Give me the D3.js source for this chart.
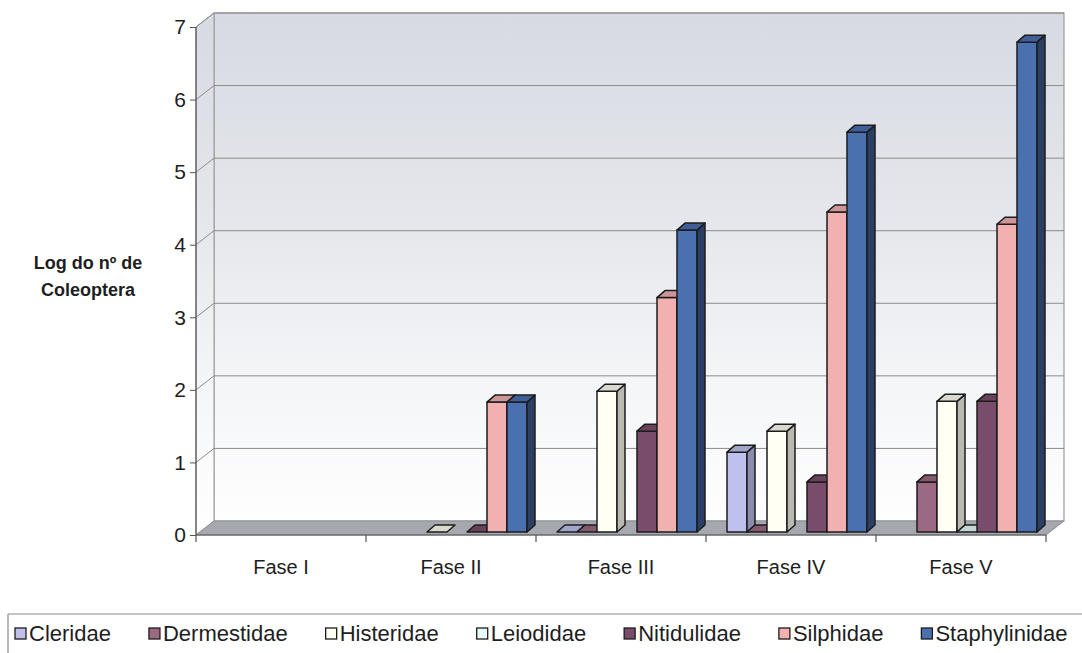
<!DOCTYPE html>
<html>
<head>
<meta charset="utf-8">
<script src="https://cdn.jsdelivr.net/npm/d3@7/dist/d3.min.js"></script>
<style>
  html, body { margin: 0; padding: 0; background: #ffffff; }
  svg { display: block; font-family: "Liberation Sans", Arial, sans-serif; }
</style>
</head>
<body>
<svg id="chart" width="1082" height="653"></svg>
<script>
// Phases (x categories)
const categories = ["Fase I", "Fase II", "Fase III", "Fase IV", "Fase V"];

// Families (series), natural log of beetle counts per phase; null = not recorded
const seriesNames = ["Cleridae", "Dermestidae", "Histeridae", "Leiodidae", "Nitidulidae", "Silphidae", "Staphylinidae"];
const cleridae      = [null, null, 0,    1.10, null];
const dermestidae   = [null, null, 0,    0,    0.69];
const histeridae    = [null, 0,    1.94, 1.39, 1.80];
const leiodidae     = [null, null, null, null, 0];
const nitidulidae   = [null, 0,    1.39, 0.69, 1.80];
const silphidae     = [null, 1.79, 3.23, 4.41, 4.24];
const staphylinidae = [null, 1.79, 4.16, 5.51, 6.75];

const yTicks = [0, 1, 2, 3, 4, 5, 6, 7];
const yTitle = ["Log do nº de", "Coleoptera"];

const seriesValues = [cleridae, dermestidae, histeridae, leiodidae, nitidulidae, silphidae, staphylinidae];
const palette = ["#bfc0ec", "#9b6a82", "#fffff4", "#e6fafa", "#7a4c6b", "#f3b0b1", "#4a70b0"];

const svg = d3.select("#chart");
const FONT = "Liberation Sans, Arial, sans-serif";

// Frame of the 3D plot: front axis plane plus a depth offset to the back wall
const left = 196, right = 1046;
const depth = { x: 18, y: -14 };       // front -> back wall
const barShift = { x: 6, y: -3 };      // front plane of the columns
const barDepth = { x: 8, y: -7 };      // column thickness

const y = d3.scaleLinear().domain([0, 7]).range([535, 27]);
const x = d3.scaleBand().domain(categories).range([left, right]).paddingInner(0).paddingOuter(0);
const clusterPad = 15;
const xs = d3.scaleBand().domain(seriesNames)
  .range([clusterPad, x.bandwidth() - clusterPad]).padding(0);

const defs = svg.append("defs");
const wallGrad = defs.append("linearGradient")
  .attr("id", "wallGrad").attr("gradientUnits", "userSpaceOnUse")
  .attr("x1", 0).attr("y1", y(7) + depth.y).attr("x2", 0).attr("y2", y(0));
wallGrad.append("stop").attr("offset", "0%").attr("stop-color", "#d7dae2");
wallGrad.append("stop").attr("offset", "40%").attr("stop-color", "#e5e7ec");
wallGrad.append("stop").attr("offset", "72%").attr("stop-color", "#f5f6f8");
wallGrad.append("stop").attr("offset", "100%").attr("stop-color", "#ffffff");

const pts = a => a.map(p => p.join(",")).join(" ");

// Back wall
const bx0 = left + depth.x, bx1 = right + depth.x;
const byTop = y(7) + depth.y, byBot = y(0) + depth.y;
svg.append("rect")
  .attr("x", bx0).attr("y", byTop).attr("width", bx1 - bx0).attr("height", byBot - byTop)
  .attr("fill", "url(#wallGrad)").attr("stroke", "#9a9a9a").attr("stroke-width", 1.2);

// Side wall
svg.append("polygon")
  .attr("points", pts([[left, y(7)], [bx0, byTop], [bx0, byBot], [left, y(0)]]))
  .attr("fill", "url(#wallGrad)").attr("stroke", "#9a9a9a").attr("stroke-width", 1);

// Gridlines on back and side walls
const grid = svg.append("g").attr("stroke", "#8c8c8c").attr("stroke-width", 1).attr("fill", "none");
yTicks.filter(t => t > 0).forEach(t => {
  grid.append("polyline")
    .attr("points", pts([[left, y(t)], [bx0, y(t) + depth.y], [bx1, y(t) + depth.y]]));
});

// Floor
svg.append("polygon")
  .attr("points", pts([[left, y(0)], [right, y(0)], [bx1, byBot], [bx0, byBot]]))
  .attr("fill", "#a6a8b0").attr("stroke", "#8e9098").attr("stroke-width", 1);

// Columns
const barsG = svg.append("g").attr("stroke", "#1c1c1c").attr("stroke-width", 1.5).attr("stroke-linejoin", "round");
categories.forEach((cat, i) => {
  seriesNames.forEach((name, j) => {
    const v = seriesValues[j][i];
    if (v === null) return;
    const base = d3.color(palette[j]);
    const x0 = x(cat) + xs(name) + barShift.x;
    const x1 = x0 + xs.bandwidth();
    const yt = y(v) + barShift.y;
    const yb = y(0) + barShift.y;
    const g = barsG.append("g").attr("class", "bar");
    if (v > 0) {
      g.append("rect").attr("x", x0).attr("y", yt).attr("width", x1 - x0).attr("height", yb - yt)
        .attr("fill", base.formatHex());
      g.append("polygon")
        .attr("points", pts([[x1, yt], [x1, yb], [x1 + barDepth.x, yb + barDepth.y], [x1 + barDepth.x, yt + barDepth.y]]))
        .attr("fill", base.darker(j === 6 ? 1.6 : 0.9).formatHex());
    }
    g.append("polygon")
      .attr("points", pts([[x0, yt], [x1, yt], [x1 + barDepth.x, yt + barDepth.y], [x0 + barDepth.x, yt + barDepth.y]]))
      .attr("fill", base.darker(0.45).formatHex());
  });
});

// Front axes
const axisG = svg.append("g").attr("stroke", "#555").attr("stroke-width", 1.2);
axisG.append("line").attr("x1", left).attr("x2", left).attr("y1", y(7)).attr("y2", y(0));
axisG.append("line").attr("x1", left).attr("x2", right).attr("y1", y(0)).attr("y2", y(0));

const yAxis = d3.axisLeft(y).tickValues(yTicks).tickFormat(d3.format("d")).tickSize(6).tickPadding(4);
const yAxisG = svg.append("g").attr("transform", `translate(${left},0)`).call(yAxis);
yAxisG.attr("font-size", null).attr("font-family", null);
yAxisG.select(".domain").remove();
yAxisG.selectAll(".tick line").attr("stroke", "#555");
yAxisG.selectAll(".tick text").style("font-size", "21px").attr("fill", "#1e1e1e")
  .style("font-family", FONT);

const xAxis = d3.axisBottom(x).tickSize(0).tickPadding(25);
const xAxisG = svg.append("g").attr("transform", `translate(0,${y(0)})`).call(xAxis);
xAxisG.attr("font-size", null).attr("font-family", null);
xAxisG.select(".domain").remove();
xAxisG.selectAll(".tick text").style("font-size", "20px").attr("fill", "#1e1e1e")
  .style("font-family", FONT);
// category boundary ticks
svg.append("g").attr("stroke", "#555").attr("stroke-width", 1.2)
  .selectAll("line").data(categories.map(c => x(c)).concat([right])).join("line")
  .attr("x1", d => d).attr("x2", d => d).attr("y1", y(0)).attr("y2", y(0) + 7);

// Axis title
const tt = svg.append("text").attr("text-anchor", "middle").attr("font-weight", "bold")
  .style("font-size", "18px").attr("fill", "#1e1e1e");
yTitle.forEach((line, k) => {
  tt.append("tspan").attr("x", 88).attr("y", 269 + k * 27).text(line);
});

// Legend
const legend = svg.append("g");
legend.append("line").attr("x1", 8).attr("x2", 1082).attr("y1", 614).attr("y2", 614)
  .attr("stroke", "#8a8a8a").attr("stroke-width", 1.2);
legend.append("line").attr("x1", 8).attr("x2", 8).attr("y1", 614).attr("y2", 653)
  .attr("stroke", "#8a8a8a").attr("stroke-width", 1.2);
let lx = 15;
seriesNames.forEach((name, j) => {
  const item = legend.append("g");
  item.append("rect").attr("x", lx).attr("y", 628).attr("width", 11).attr("height", 11)
    .attr("fill", palette[j]).attr("stroke", "#1c1c1c").attr("stroke-width", 1.3);
  const t = item.append("text").attr("x", lx + 14).attr("y", 641)
    .style("font-size", "22px").attr("fill", "#1e1e1e").text(name);
  lx += 14 + t.node().getComputedTextLength() + 38;
});
</script>
</body>
</html>
